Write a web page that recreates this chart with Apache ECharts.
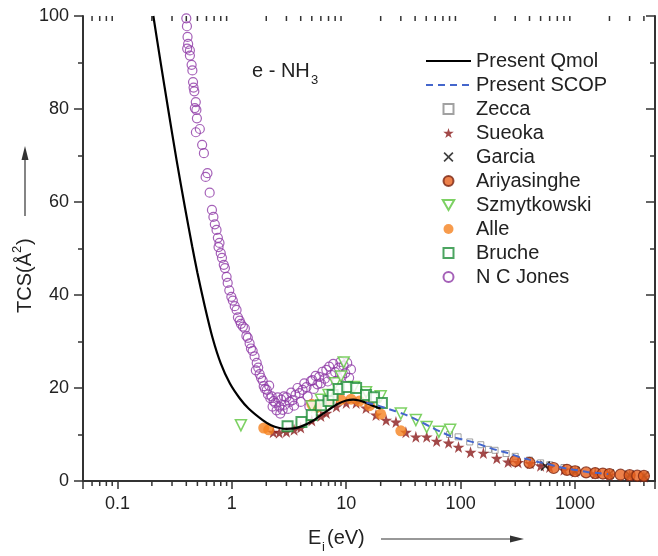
<!DOCTYPE html>
<html>
<head>
<meta charset="utf-8">
<script src="https://cdn.jsdelivr.net/npm/echarts@6/dist/echarts.min.js"></script>
<style>html,body{margin:0;padding:0;background:#fff;}#chart{width:658px;height:556px;}</style>
</head>
<body>
<div id="chart"></div>
<script>
// ---- data (energy eV, TCS Å^2) ----
const xTickLabels = ['0.1', '1', '10', '100', '1000'];
const yTickValues = [0, 20, 40, 60, 80, 100];
const seriesNames = ['Present Qmol', 'Present SCOP', 'Zecca', 'Sueoka', 'Garcia', 'Ariyasinghe', 'Szmytkowski', 'Alle', 'Bruche', 'N C Jones'];

const qmol = [[0.206,100],[0.24,89.6],[0.277,80.1],[0.33,68.8],[0.39,58.7],[0.45,50.5],[0.5,44.8],[0.58,37.6],[0.68,30.7],[0.8,25.3],[0.96,21.0],[1.17,17.8],[1.4,15.6],[1.86,13.1],[2.2,12.0],[2.6,11.4],[3.0,11.2],[3.5,11.3],[4.1,11.8],[5,12.8],[5.8,13.9],[7,15.3],[8.5,16.6],[10,17.3],[11.5,17.5],[13,17.3],[15,16.8],[17,16.2],[20,15.6]];
const scop = [[15,16.9],[18,16.4],[22,15.7],[27,15.0],[35,14.0],[45,12.7],[55,11.6],[68,10.5],[85,9.5],[105,8.9],[135,8.2],[170,7.3],[210,6.6],[260,6.0],[330,5.1],[400,4.6],[475,4.1],[550,3.8],[700,3.1],[870,2.6],[1050,2.3],[1300,1.9],[1600,1.7],[1950,1.5]];
const zecca = [[80,10],[95,9.5],[120,8.4],[150,7.8],[175,6.8],[200,6.6],[250,5.9],[300,5.3],[400,4.5],[500,3.9],[600,3.5],[800,2.9],[1000,2.5],[1500,2.0],[2000,1.7],[3000,1.3],[4000,1.1]];
const sueoka = [[2.3,10.5],[2.6,10.4],[3.0,10.6],[3.5,11],[4.0,11.5],[5,13],[6,14],[6.7,14.6],[8.2,16],[10,16.8],[12.2,16.8],[14.9,15.7],[18.2,14.2],[22.3,13.1],[27.2,12.7],[33.2,10.5],[40.6,9.5],[50.5,9.5],[61.7,8.6],[78.5,8.2],[95.8,7.3],[122,6.2],[158,6.0],[207,4.9],[260,4.1],[318,4.0],[406,3.8],[500,3.3],[600,3.0],[800,2.4],[1000,2.0],[1500,1.6],[2000,1.3],[3000,1.1],[4000,0.9]];
const garcia = [[550,3.2],[1000,2.1],[2000,1.5],[3000,1.25],[4000,1.1]];
const ariyasinghe = [[300,4.3],[400,3.9],[650,2.8],[850,2.4],[1000,2.1],[1250,1.85],[1500,1.7],[1750,1.6],[2000,1.5],[2500,1.35],[3000,1.25],[3500,1.15],[4000,1.1]];
const szmytkowski = [[1.2,12.0],[5,16],[6,17.5],[7,18.5],[8,21],[9,22.5],[9.5,25.5],[11.7,20.2],[14.9,19.1],[20,18.2],[30,14.5],[40.6,13.1],[50.5,11.6],[64.5,10.6],[81,11.0]];
const alle = [[1.9,11.4],[2.1,11.0],[5.0,16.5],[5.5,15.8],[7,17.2],[9,17.5],[11,17.6],[13,17.2],[16,16.2],[20,14.4],[30,10.8]];
const bruche = [[3.07,11.8],[4.06,12.7],[5.0,14.2],[6.0,16.3],[7.0,17.2],[7.6,18.5],[8.6,19.8],[10.2,20.2],[12.2,20.0],[14.9,18.5],[17.5,18.0],[20.5,16.8]];
const ncJones = [[0.40,99.5],[0.405,97.8],[0.41,95.5],[0.415,94.0],[0.407,93.0],[0.43,92.6],[0.43,91.5],[0.445,89.5],[0.452,88.3],[0.458,85.8],[0.463,84.6],[0.47,83.8],[0.484,81.5],[0.475,80.2],[0.49,79.8],[0.495,78.0],[0.485,75.0],[0.525,75.7],[0.55,72.3],[0.57,70.5],[0.59,65.4],[0.612,66.2],[0.64,62.0],[0.67,58.3],[0.69,56.8],[0.71,55.2],[0.735,54.0],[0.755,52.3],[0.78,51.2],[0.765,50.3],[0.8,49.0],[0.82,48.0],[0.85,46.5],[0.87,45.8],[0.9,43.9],[0.92,42.6],[0.95,41.0],[0.99,39.6],[1.02,38.8],[1.06,37.6],[1.1,36.8],[1.13,35.2],[1.17,34.5],[1.2,33.8],[1.25,33.2],[1.3,32.8],[1.34,31.2],[1.38,30.8],[1.43,29.6],[1.47,28.5],[1.52,28.0],[1.58,26.8],[1.65,25.4],[1.62,23.8],[1.7,24.4],[1.75,23.0],[1.8,22.2],[1.86,21.6],[1.9,20.4],[1.95,19.8],[2.02,19.6],[2.07,18.6],[2.12,20.5],[2.17,17.8],[2.23,18.2],[2.27,16.0],[2.32,17.2],[2.4,16.8],[2.46,15.2],[2.52,18.0],[2.6,16.0],[2.65,14.5],[2.7,17.5],[2.78,15.3],[2.85,18.2],[2.9,16.4],[3.0,18.0],[3.1,15.5],[3.2,17.0],[3.3,19.0],[3.39,17.4],[3.5,16.2],[3.6,18.5],[3.75,20.0],[3.9,18.9],[4.0,17.0],[4.15,19.6],[4.3,21.0],[4.49,20.2],[4.6,18.2],[4.76,16.0],[4.9,21.5],[5.06,21.7],[5.2,19.8],[5.4,22.6],[5.6,20.8],[5.8,22.4],[6.0,21.0],[6.2,23.5],[6.5,22.0],[6.7,23.9],[6.9,21.4],[7.1,24.6],[7.4,22.8],[7.7,25.2],[8.0,23.4],[8.3,21.6],[8.6,24.4],[8.9,25.6],[9.2,22.6],[9.5,24.8],[9.8,23.2],[10.2,25.4],[10.6,22.2],[11.0,24.0]];

// minor tick positions of the log axis (2..9 x decade)
const minorTickMultipliers = [2,3,4,5,6,7,8,9];
const decades = [-2,-1,0,1,2,3];
const minorTicks = [];
decades.forEach(function (e) { minorTickMultipliers.forEach(function (m) {
  const v = m * Math.pow(10, e); if (v > 0.0501 && v < 4999) minorTicks.push([v, 0]);
}); });

const FONT = '"Liberation Sans", Arial, Helvetica, sans-serif';
const AX = '#333';
const STAR = 'path://M50,0 L61,35 L98,35 L68,57 L79,91 L50,70 L21,91 L32,57 L2,35 L39,35 Z';
const XMARK = 'path://M0,12 L12,0 L50,38 L88,0 L100,12 L62,50 L100,88 L88,100 L50,62 L12,100 L0,88 L38,50 Z';
const SQUARE = 'path://M0,0 L100,0 L100,100 L0,100 Z';
const TRI_DOWN = 'path://M0,0 L100,0 L50,87 Z';

const chart = echarts.init(document.getElementById('chart'), null, {renderer: 'canvas'});

function xLabel(v) {
  const l = Math.log10(v);
  if (Math.abs(l - Math.round(l)) > 1e-6) return '';
  const idx = Math.round(l) + 1;
  return xTickLabels[idx] !== undefined ? xTickLabels[idx] : '';
}

const option = {
  backgroundColor: '#fff',
  animation: false,
  grid: {left: 83, right: 2, top: 16, bottom: 75},
  xAxis: [{
    type: 'log', logBase: 10, min: 0.05, max: 5000, position: 'bottom',
    axisLine: {show: true, lineStyle: {color: AX, width: 2}},
    axisTick: {show: true, length: 8, lineStyle: {color: AX, width: 1.5}},
    axisLabel: {formatter: xLabel, fontSize: 18, color: '#222', fontFamily: FONT, margin: 14},
    splitLine: {show: false}, minorTick: {show: false}
  }, {
    type: 'log', logBase: 10, min: 0.05, max: 5000, position: 'top',
    axisLine: {show: true, lineStyle: {color: AX, width: 2}},
    axisTick: {show: true, inside: true, length: 8, lineStyle: {color: AX, width: 1.5}},
    axisLabel: {show: false}, splitLine: {show: false}
  }],
  yAxis: [{
    type: 'value', min: 0, max: 100, interval: 20, position: 'left',
    axisLine: {show: true, lineStyle: {color: AX, width: 2}},
    axisTick: {show: true, length: 9, lineStyle: {color: AX, width: 1.5}},
    minorTick: {show: true, splitNumber: 2, length: 5, lineStyle: {color: AX, width: 1.5}},
    axisLabel: {fontSize: 18, color: '#222', fontFamily: FONT, margin: 14},
    splitLine: {show: false}
  }, {
    type: 'value', min: 0, max: 100, interval: 20, position: 'right',
    axisLine: {show: true, lineStyle: {color: AX, width: 2}},
    axisTick: {show: true, inside: true, length: 9, lineStyle: {color: AX, width: 1.5}},
    minorTick: {show: true, splitNumber: 2, length: 5, lineStyle: {color: AX, width: 1.5}},
    axisLabel: {show: false}, splitLine: {show: false}
  }],
  legend: {
    orient: 'vertical', left: 425, top: 51, padding: 0, itemWidth: 45, itemHeight: 10, itemGap: 4,
    textStyle: {fontSize: 20, lineHeight: 20, color: '#222', fontFamily: FONT},
    data: seriesNames
  },
  graphic: [
    {type: 'text', left: 252, top: 61, style: {text: 'e - NH', font: '20px ' + FONT, fill: '#222'}},
    {type: 'text', left: 311, top: 74, style: {text: '3', font: '13px ' + FONT, fill: '#222'}},
    {type: 'group', x: 25, y: 313, rotation: Math.PI / 2, children: [
      {type: 'text', x: 0, y: 0, style: {text: 'TCS(Å', font: '20px ' + FONT, fill: '#222', textVerticalAlign: 'middle', textAlign: 'left'}},
      {type: 'text', x: 60, y: -8, style: {text: '2', font: '13px ' + FONT, fill: '#222', textVerticalAlign: 'middle', textAlign: 'left'}},
      {type: 'text', x: 68, y: 0, style: {text: ')', font: '20px ' + FONT, fill: '#222', textVerticalAlign: 'middle', textAlign: 'left'}}
    ]},
    {type: 'line', shape: {x1: 25, y1: 216, x2: 25, y2: 158}, style: {stroke: '#333', lineWidth: 1.2}},
    {type: 'polygon', shape: {points: [[21.5, 160], [25, 146], [28.5, 160]]}, style: {fill: '#333'}},
    {type: 'text', x: 308, y: 538, style: {text: 'E', font: '20px ' + FONT, fill: '#222', textVerticalAlign: 'middle'}},
    {type: 'text', x: 322, y: 547, style: {text: 'i', font: '13px ' + FONT, fill: '#222', textVerticalAlign: 'middle'}},
    {type: 'text', x: 327, y: 538, style: {text: '(eV)', font: '20px ' + FONT, fill: '#222', textVerticalAlign: 'middle'}},
    {type: 'line', shape: {x1: 381, y1: 539, x2: 512, y2: 539}, style: {stroke: '#333', lineWidth: 1.2}},
    {type: 'polygon', shape: {points: [[510, 535.5], [524, 539], [510, 542.5]]}, style: {fill: '#333'}}
  ],
  series: [
    {type: 'custom', name: 'minorTicks', data: minorTicks, silent: true, clip: false,
      renderItem: function (params, api) {
        const x = api.value(0);
        const pb = api.coord([x, 0]);
        const pt = api.coord([x, 100]);
        return {type: 'group', children: [
          {type: 'line', shape: {x1: pb[0], y1: pb[1], x2: pb[0], y2: pb[1] + 5}, style: {stroke: AX, lineWidth: 1.5}},
          {type: 'line', shape: {x1: pt[0], y1: pt[1], x2: pt[0], y2: pt[1] + 5}, style: {stroke: AX, lineWidth: 1.5}}
        ]};
      }},
    {name: 'Present Qmol', type: 'line', data: qmol, symbol: 'none', smooth: 0.25,
      lineStyle: {color: '#000', width: 2.2}, itemStyle: {color: '#000', opacity: 0}},
    {name: 'N C Jones', type: 'scatter', data: ncJones, symbol: 'circle', symbolSize: 9,
      itemStyle: {color: 'rgba(255,255,255,0)', borderColor: '#8e3aa6', borderWidth: 1.2}},
    {name: 'Zecca', type: 'scatter', data: zecca, symbol: SQUARE, symbolSize: 6,
      itemStyle: {color: '#fff', borderColor: '#8a8a8a', borderWidth: 1}},
    {name: 'Sueoka', type: 'scatter', data: sueoka, symbol: STAR, symbolSize: 12,
      itemStyle: {color: '#8b1a1a'}},
    {name: 'Garcia', type: 'scatter', data: garcia, symbol: XMARK, symbolSize: 10,
      itemStyle: {color: '#111'}},
    {name: 'Ariyasinghe', type: 'scatter', data: ariyasinghe, symbol: 'circle', symbolSize: 11,
      itemStyle: {color: '#e8621e', borderColor: '#7a2410', borderWidth: 1.2}},
    {name: 'Alle', type: 'scatter', data: alle, symbol: 'circle', symbolSize: 11,
      itemStyle: {color: '#f5821f'}},
    {name: 'Szmytkowski', type: 'scatter', data: szmytkowski, symbol: TRI_DOWN, symbolSize: 11,
      itemStyle: {color: '#fff', borderColor: '#5cc63c', borderWidth: 1.5}},
    {name: 'Bruche', type: 'scatter', data: bruche, symbol: SQUARE, symbolSize: 10,
      itemStyle: {color: '#fff', borderColor: '#1f8f3a', borderWidth: 2}},
    {name: 'Present SCOP', type: 'line', data: scop, symbol: 'none', smooth: 0.25,
      lineStyle: {color: '#4466cc', width: 2, type: [7, 5]}, itemStyle: {color: '#4466cc', opacity: 0}}
  ]
};
chart.setOption(option);
</script>
</body>
</html>
